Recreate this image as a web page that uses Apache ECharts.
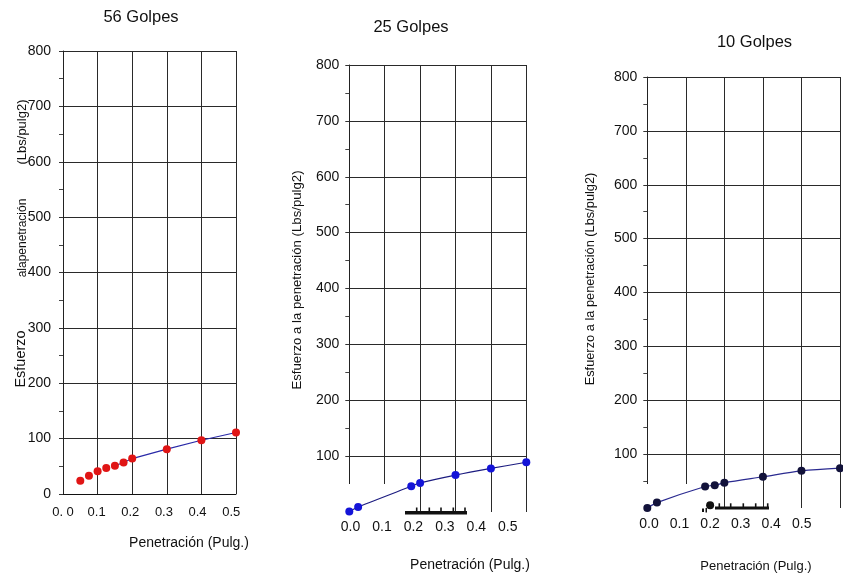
<!DOCTYPE html>
<html>
<head>
<meta charset="utf-8">
<script src="https://cdn.jsdelivr.net/npm/echarts@6/dist/echarts.min.js"></script>
<style>
html,body{margin:0;padding:0;background:#fff;}
#chart{width:843px;height:577px;}
</style>
</head>
<body>
<div id="chart"></div>
<script>
// ---- data ----
const titles = ['56 Golpes', '25 Golpes', '10 Golpes'];
const xTickLabels56 = ['0. 0', '0.1', '0.2', '0.3', '0.4', '0.5'];
const xTickLabels = ['0.0', '0.1', '0.2', '0.3', '0.4', '0.5'];
const yTicks = [0, 100, 200, 300, 400, 500, 600, 700, 800];

const pen56 = [0.05, 0.075, 0.1, 0.125, 0.15, 0.175, 0.2, 0.3, 0.4, 0.5];
const esf56 = [24, 33, 41, 47, 51, 57, 64, 81, 97, 111];

const pen25 = [0, 0.025, 0.175, 0.2, 0.3, 0.4, 0.5];
const esf25 = [1, 9, 46, 52, 66, 78, 89];

const pen10 = [0, 0.025, 0.15, 0.175, 0.2, 0.3, 0.4, 0.5];
const esf10 = [0, 10, 40, 42, 47, 58, 69, 74];
const strayPen10 = [0.163];
const strayEsf10 = [5];

const xName = 'Penetración (Pulg.)';
const yName = 'Esfuerzo a la penetración (Lbs/pulg2)';
const yName56 = ['Esfuerzo', 'alapenetración', '(Lbs/pulg2)'];

// ---- helpers ----
const FF = '"Liberation Sans", Arial, sans-serif';
const zip = (xs, ys) => xs.map((x, i) => [x, ys[i]]);
const LINE = '#2a2a2a';

const plotGrids = [
  {left: 63, top: 51, width: 173, height: 443},
  {left: 349.3, top: 65, width: 177, height: 447},
  {left: 647.3, top: 77, width: 192.7, height: 431}
];
const labelGrids = [
  {left: 63, top: 51, width: 168.2, height: 443},
  {left: 350.5, top: 65, width: 157.3, height: 447},
  {left: 649, top: 77, width: 152.7, height: 431}
];
const xLabelStyle = [
  {fontSize: 13, margin: 12, labels: xTickLabels56},
  {fontSize: 14, margin: 8, labels: xTickLabels},
  {fontSize: 14, margin: 9, labels: xTickLabels}
];
const yLabelMargin = [12, 10, 10];

const xAxes = [], yAxes = [];
for (let i = 0; i < 3; i++) {
  xAxes.push({
    type: 'value', gridIndex: i, min: 0, max: 0.5, interval: 0.1,
    axisLine: {show: i === 0, onZero: false, lineStyle: {color: '#111', width: 1}},
    axisTick: {show: false},
    axisLabel: {show: false},
    splitLine: {show: true, lineStyle: {color: LINE, width: 1}}
  });
  yAxes.push({
    type: 'value', gridIndex: i, min: yTicks[0], max: yTicks[yTicks.length - 1], interval: 100,
    axisLine: {show: true, lineStyle: {color: '#222', width: 1}},
    axisTick: {show: true, length: 4, lineStyle: {color: '#333'}},
    minorTick: {show: true, splitNumber: 2, length: 4, lineStyle: {color: '#444'}},
    splitLine: {show: true, showMinLine: i === 0, lineStyle: {color: LINE, width: 1}},
    axisLabel: {fontSize: 14, color: '#111', fontFamily: FF, margin: yLabelMargin[i], showMinLabel: i === 0}
  });
}
for (let i = 0; i < 3; i++) {
  const st = xLabelStyle[i];
  xAxes.push({
    type: 'value', gridIndex: 3 + i, min: 0, max: 0.5, interval: 0.1,
    axisLine: {show: false}, axisTick: {show: false}, splitLine: {show: false},
    axisLabel: {
      fontSize: st.fontSize, margin: st.margin, color: '#111', fontFamily: FF,
      formatter: v => st.labels[Math.round(v * 10)] || ''
    }
  });
  yAxes.push({type: 'value', gridIndex: 3 + i, min: 0, max: 800, show: false});
}

const graphic = [];
// titles
const titlePos = [[141, 17], [411, 27], [754.5, 42]];
titles.forEach((t, i) => graphic.push({
  type: 'text', x: titlePos[i][0], y: titlePos[i][1], z: 20,
  style: {text: t, fontSize: 16.5, fontFamily: FF, fill: '#111', align: 'center', verticalAlign: 'middle'}
}));
// x axis names
const xNamePos = [[189, 543, 14], [470, 565, 14], [756, 566.5, 13]];
xNamePos.forEach(p => graphic.push({
  type: 'text', x: p[0], y: p[1], z: 20,
  style: {text: xName, fontSize: p[2], fontFamily: FF, fill: '#111', align: 'center', verticalAlign: 'middle'}
}));
// y axis names
const yName56Pos = [[21, 359, 14.5], [23, 238, 12], [22, 132, 13]];
yName56.forEach((t, i) => graphic.push({
  type: 'text', x: yName56Pos[i][0], y: yName56Pos[i][1], rotation: Math.PI / 2, z: 20,
  style: {text: t, fontSize: yName56Pos[i][2], fontFamily: FF, fill: '#111', align: 'center', verticalAlign: 'middle'}
}));
[[297, 280, 13.2], [590, 279, 12.8]].forEach(p => graphic.push({
  type: 'text', x: p[0], y: p[1], rotation: Math.PI / 2, z: 20,
  style: {text: yName, fontSize: p[2], fontFamily: FF, fill: '#111', align: 'center', verticalAlign: 'middle'}
}));
// scan artefacts: white patches over the lower-left corners
graphic.push({type: 'rect', z: 1, shape: {x: 332, y: 484, width: 66, height: 34}, style: {fill: '#fff'}});
graphic.push({type: 'rect', z: 1, shape: {x: 625, y: 484, width: 78, height: 30}, style: {fill: '#fff'}});
// scan artefacts: thick ruler bars
graphic.push({type: 'rect', z: 10, shape: {x: 405, y: 511, width: 62, height: 3.5}, style: {fill: '#111'}});
[416.7, 429.3, 441, 453.3, 465].forEach(x => graphic.push({
  type: 'line', z: 10, shape: {x1: x, y1: 507.5, x2: x, y2: 511.5}, style: {stroke: '#111', lineWidth: 1.6}
}));
graphic.push({type: 'rect', z: 10, shape: {x: 715, y: 506.5, width: 54, height: 3}, style: {fill: '#111'}});
[719.3, 730.7, 743.3, 755.7, 767.7].forEach(x => graphic.push({
  type: 'line', z: 10, shape: {x1: x, y1: 503.3, x2: x, y2: 507}, style: {stroke: '#111', lineWidth: 1.6}
}));
graphic.push({type: 'rect', z: 10, shape: {x: 702, y: 508.5, width: 2, height: 3.5}, style: {fill: '#111'}});
graphic.push({type: 'rect', z: 10, shape: {x: 705.5, y: 508, width: 1.5, height: 4.5}, style: {fill: '#111'}});

const option = {
  animation: false,
  backgroundColor: '#fff',
  grid: plotGrids.concat(labelGrids).map(g => Object.assign({containLabel: false}, g)),
  xAxis: xAxes,
  yAxis: yAxes,
  graphic: graphic,
  series: [
    {
      type: 'line', xAxisIndex: 0, yAxisIndex: 0, z: 2,
      data: zip(pen56, esf56).slice(4), showSymbol: false, symbol: 'none',
      lineStyle: {color: '#2a2aa8', width: 1.2}
    },
    {
      type: 'scatter', xAxisIndex: 0, yAxisIndex: 0, z: 3,
      data: zip(pen56, esf56), symbolSize: 8,
      itemStyle: {color: '#e01515', opacity: 1}
    },
    {
      type: 'line', xAxisIndex: 1, yAxisIndex: 1, z: 3,
      data: zip(pen25, esf25), smooth: 0.3, symbol: 'circle', symbolSize: 8,
      itemStyle: {color: '#1414d8'}, lineStyle: {color: '#1c1c80', width: 1.2}
    },
    {
      type: 'line', xAxisIndex: 2, yAxisIndex: 2, z: 3,
      data: zip(pen10, esf10), smooth: 0.3, symbol: 'circle', symbolSize: 8,
      itemStyle: {color: '#12123a'}, lineStyle: {color: '#2a2a90', width: 1.2}
    },
    {
      type: 'scatter', xAxisIndex: 2, yAxisIndex: 2, z: 12,
      data: zip(strayPen10, strayEsf10), symbolSize: 8,
      itemStyle: {color: '#111', opacity: 1}
    }
  ]
};

const chart = echarts.init(document.getElementById('chart'), null, {renderer: 'canvas'});
chart.setOption(option);
</script>
</body>
</html>
